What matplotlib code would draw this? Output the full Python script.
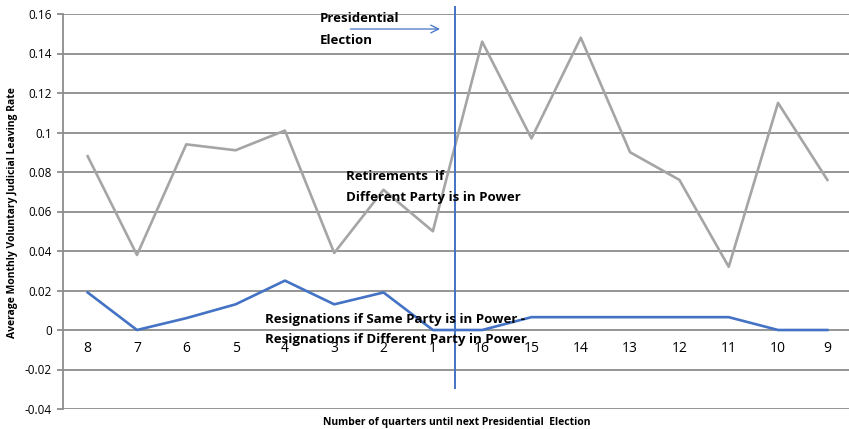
import matplotlib
matplotlib.use('Agg')
import matplotlib.pyplot as plt

# quarters until next presidential election
quarters = ["8", "7", "6", "5", "4", "3", "2", "1", "16", "15", "14", "13", "12", "11", "10", "9"]
retirements_diff = [0.088, 0.038, 0.094, 0.091, 0.101, 0.039, 0.071, 0.050,
                    0.146, 0.097, 0.148, 0.090, 0.076, 0.032, 0.115, 0.076]
resign_diff = [0.019, 0.0, 0.006, 0.013, 0.025, 0.013, 0.019, 0.0,
               0.0, 0.0065, 0.0065, 0.0065, 0.0065, 0.0065, 0.0, 0.0]
election_pos = 7.45
yticks = [-0.04, -0.02, 0, 0.02, 0.04, 0.06, 0.08, 0.1, 0.12, 0.14, 0.16]
ytick_labels = ["-0.04", "-0.02", "0", "0.02", "0.04", "0.06", "0.08", "0.1", "0.12", "0.14", "0.16"]

W, H = 849, 429
plt.rcParams['font.family'] = ['Open Sans', 'DejaVu Sans']

fig = plt.figure(figsize=(W / 100, H / 100), dpi=100)
ax = fig.add_axes([63 / W, 1 - 409 / H, 789 / W, 395 / H])

x = list(range(len(quarters)))
ax.plot(x, retirements_diff, color='#A5A5A5', lw=1.9, zorder=3)
ax.plot(x, resign_diff, color='#4472C4', lw=1.9, zorder=3)

ax.set_xlim(-0.5, len(quarters) - 0.5)
ax.set_ylim(-0.04, 0.16)
ax.set_yticks(yticks)
ax.set_yticklabels(ytick_labels, fontsize=8.5)
ax.yaxis.grid(True, color='#8C8C8C', lw=1.3)
ax.set_axisbelow(True)
ax.tick_params(axis='y', length=4, color='#8C8C8C', width=1.3, pad=4)

ax.set_xticks(x)
ax.set_xticklabels(quarters, fontsize=8.5)
ax.spines['bottom'].set_position(('data', 0))
ax.spines['bottom'].set_visible(False)
ax.tick_params(axis='x', length=0, pad=8)
for s in ['top', 'right']:
    ax.spines[s].set_visible(False)
ax.spines['left'].set_color('#8C8C8C')
ax.spines['left'].set_linewidth(1.3)

# election marker
ax.plot([election_pos, election_pos], [-0.0294, 0.1635], color='#4472C4', lw=1.4,
        clip_on=False, zorder=4)
ax.annotate('', xy=(7.2, 0.1524), xytext=(5.27, 0.1524),
            arrowprops=dict(arrowstyle='->', color='#4472C4', lw=0.9,
                            mutation_scale=14))

def label(px, py, s):
    fig.text(px / W, 1 - py / H, s, fontsize=9.5, fontweight='bold', va='center', ha='left')

label(320, 19, "Presidential")
label(320, 40, "Election")
label(346, 176, "Retirements  if")
label(346, 197, "Different Party is in Power")
label(265, 320, "Resignations if Same Party is in Power -")
label(265, 340, "Resignations if Different Party in Power")

fig.text(457 / W, 1 - 422 / H, "Number of quarters until next Presidential  Election",
         fontsize=7.5, fontweight='bold', ha='center', va='center')
fig.text(13 / W, 1 - 213 / H, "Average Monthly Voluntary Judicial Leaving Rate",
         fontsize=7.5, fontweight='bold', ha='center', va='center', rotation=90)

fig.savefig('out.png', dpi=100)
